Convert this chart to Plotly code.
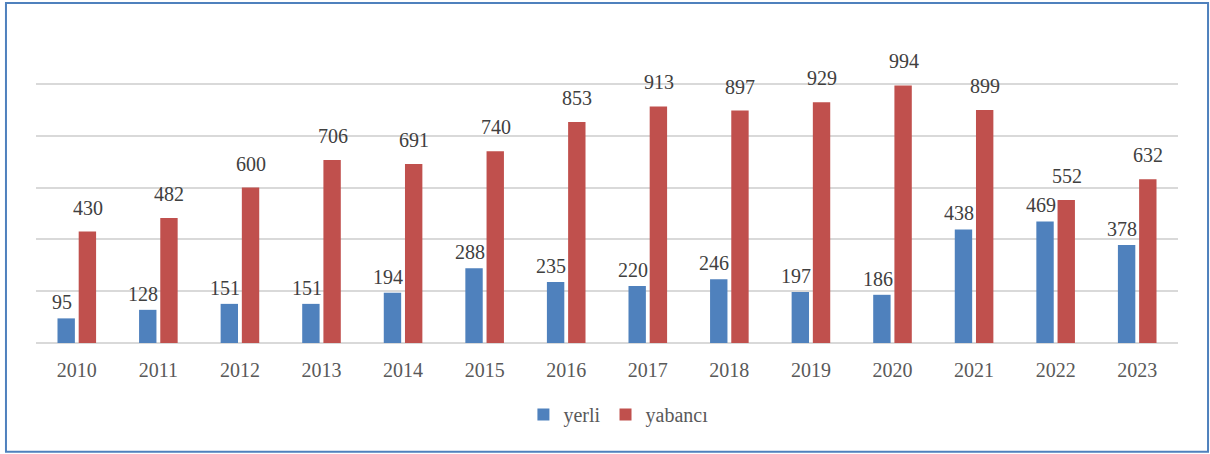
import plotly.graph_objects as go

years = ["2010", "2011", "2012", "2013", "2014", "2015", "2016",
         "2017", "2018", "2019", "2020", "2021", "2022", "2023"]
yerli = [95, 128, 151, 151, 194, 288, 235, 220, 246, 197, 186, 438, 469, 378]
yabanci = [430, 482, 600, 706, 691, 740, 853, 913, 897, 929, 994, 899, 552, 632]

FONT = "Liberation Serif, Times New Roman, serif"

fig = go.Figure()
fig.add_trace(go.Bar(
    x=years, y=yerli, name="yerli",
    marker=dict(color="#4F81BD", line=dict(width=0)),
))
fig.add_trace(go.Bar(
    x=years, y=yabanci, name="yabancı",
    marker=dict(color="#C0504D", line=dict(width=0)),
))

# data labels (Excel style: a bit above each bar)
# on a category axis the annotation x is the category index
for i, v in enumerate(yerli):
    fig.add_annotation(x=i, y=v, text=str(v), showarrow=False,
                       xanchor="center", yanchor="bottom", xshift=-15, yshift=3,
                       font=dict(family=FONT, size=20, color="#404040"))
for i, v in enumerate(yabanci):
    fig.add_annotation(x=i, y=v, text=str(v), showarrow=False,
                       xanchor="center", yanchor="bottom", xshift=11, yshift=11,
                       font=dict(family=FONT, size=20, color="#404040"))

fig.update_layout(
    width=1210, height=454,
    margin=dict(l=36, r=32, t=32, b=111),
    paper_bgcolor="#ffffff",
    plot_bgcolor="#ffffff",
    barmode="group",
    bargap=0.48,
    bargroupgap=0.18,
    font=dict(family=FONT, size=20, color="#595959"),
    showlegend=True,
    legend=dict(
        orientation="h", x=0.51, xanchor="center", y=-0.23, yanchor="middle",
        font=dict(family=FONT, size=20, color="#595959"),
        itemwidth=30, traceorder="normal",
    ),
)

# outer frame like the source picture
fig.add_shape(
    type="rect", xref="paper", yref="paper",
    x0=-0.0263, x1=1.0263, y0=-0.350, y1=1.093,
    line=dict(color="#4F81BD", width=2), fillcolor="rgba(0,0,0,0)",
    layer="below",
)

fig.update_xaxes(
    type="category", range=[-0.5, len(years) - 0.5],
    showgrid=False, showline=False, zeroline=False,
    ticks="outside", ticklen=9, tickcolor="rgba(0,0,0,0)",
    tickfont=dict(family=FONT, size=20, color="#595959"),
)

fig.update_yaxes(
    range=[0, 1200], dtick=200,
    showgrid=True, gridcolor="#D9D9D9", gridwidth=2,
    zeroline=True, zerolinecolor="#D9D9D9", zerolinewidth=2,
    showticklabels=False, ticks="",
)

fig.write_html("out.html", config={"displayModeBar": False},
               post_script="document.body.style.margin='0';")
